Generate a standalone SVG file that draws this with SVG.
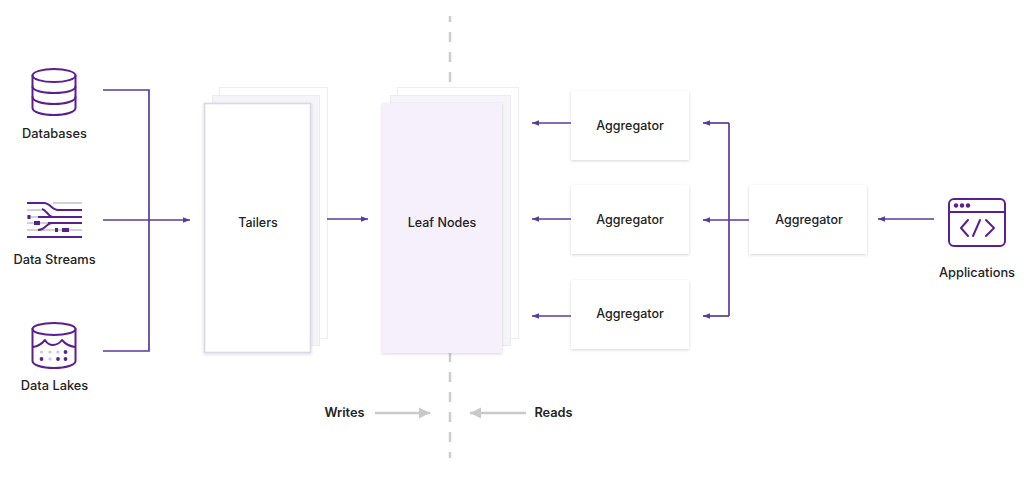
<svg xmlns="http://www.w3.org/2000/svg" width="1024" height="490" viewBox="0 0 1024 490">
<defs>
<filter id="sh" x="-10%" y="-10%" width="120%" height="120%"><feDropShadow dx="0" dy="1" stdDeviation="1.5" flood-color="#000" flood-opacity="0.16"/></filter>
<marker id="pa" markerUnits="userSpaceOnUse" markerWidth="8" markerHeight="7" refX="7" refY="3.500" orient="auto-start-reverse"><path d="M0 0.800L7 3.500L0 6.200z" fill="#5a3a9e"/></marker>
<marker id="ga" markerUnits="userSpaceOnUse" markerWidth="12" markerHeight="12" refX="11" refY="6" orient="auto"><path d="M0 0.500L11 6L0 11.500z" fill="#c9c9c9"/></marker>
</defs>
<style>
text{font-family:"Inter","Liberation Sans",sans-serif;font-size:12.5px;font-weight:500;fill:#232323;text-anchor:middle}
.lb{font-size:12.8px}
.c{fill:none;stroke:#5a3a9e;stroke-width:1.7}
.i{fill:none;stroke:#5c1f8f;stroke-width:2;stroke-linecap:round;stroke-linejoin:round}
.g{fill:none;stroke:#c4c4c8;stroke-width:1.4}
.k{fill:none;stroke:#5c1f8f;stroke-width:2.1}
.d{fill:#5c1f8f}
.box{fill:#fff;filter:url(#sh)}
.back{fill:#fff;stroke:#ececf2;stroke-width:1}
.mid{fill:#f5f5f9;stroke:#ebebf1;stroke-width:1}
</style>
<line x1="450" y1="16" x2="450" y2="458" stroke="#cdcdcd" stroke-width="2.500" stroke-dasharray="10 10" stroke-dashoffset="4"/>
<g id="tailers">
<rect class="back" x="219.500" y="87.500" width="108" height="251"/>
<rect class="mid" x="212.500" y="95.500" width="107" height="250"/>
<rect x="204.500" y="103.500" width="106" height="249" fill="#fff" stroke="#d9d8e8" stroke-width="1.600" filter="url(#sh)"/>
<text x="258" y="226.500">Tailers</text>
</g>
<g id="leaf-nodes">
<rect class="back" x="397.500" y="87.500" width="121" height="251"/>
<rect class="mid" x="390.500" y="95.500" width="120" height="250"/>
<rect x="382" y="103" width="120" height="250" fill="#f5f0fc" filter="url(#sh)"/>
<text x="442" y="226.500">Leaf Nodes</text>
</g>
<g id="aggregator-1"><rect class="box" x="571" y="91" width="118" height="69"/><text x="630" y="130">Aggregator</text></g>
<g id="aggregator-2"><rect class="box" x="571" y="185" width="118" height="69"/><text x="630" y="224">Aggregator</text></g>
<g id="aggregator-3"><rect class="box" x="571" y="280" width="118" height="69"/><text x="630" y="318">Aggregator</text></g>
<g id="aggregator-top"><rect class="box" x="749" y="185" width="118" height="69"/><text x="809" y="224">Aggregator</text></g>
<g id="connectors">
<path class="c" d="M103 90H149V351H103"/>
<path class="c" d="M103 220H190" marker-end="url(#pa)"/>
<path class="c" d="M327 219H368" marker-end="url(#pa)"/>
<path class="c" d="M571 123H532" marker-end="url(#pa)"/>
<path class="c" d="M571 219H532" marker-end="url(#pa)"/>
<path class="c" d="M571 316H532" marker-end="url(#pa)"/>
<path class="c" d="M729 123H703" marker-end="url(#pa)"/>
<path class="c" d="M749 220H703" marker-end="url(#pa)"/>
<path class="c" d="M729 316H703" marker-end="url(#pa)"/>
<path class="c" d="M729 123V316"/>
<path class="c" d="M934 219H878" marker-end="url(#pa)"/>
<path d="M375 413H430" fill="none" stroke="#c9c9c9" stroke-width="2.500" marker-end="url(#ga)"/>
<path d="M526 413H470" fill="none" stroke="#c9c9c9" stroke-width="2.500" marker-end="url(#ga)"/>
</g>
<g id="databases">
<ellipse class="i" cx="54" cy="75.500" rx="21.500" ry="6.500"/>
<path class="i" d="M32.500 75.500V108C32.500 112 42 115 54 115S75.500 112 75.500 108V75.500"/>
<path class="i" d="M32.500 86.500C32.500 90.500 42 93 54 93S75.500 90.500 75.500 86.500"/>
<path class="i" d="M32.500 97C32.500 101 42 104 54 104S75.500 101 75.500 97"/>
<text class="lb" x="54.500" y="137.500">Databases</text>
</g>
<g id="data-streams">
<path class="g" d="M53 203H82M27 210H42M27 217H38M27 223H50M27 230H82"/>
<path class="k" d="M27 203H44C50 203 52 210 58 210H82M38 217H82M42 209C47 210 48 217 53 217M48 223H82M38 230C46 230 46 223 52 223M27 237H82"/>
<rect class="d" x="27.500" y="215" width="3" height="4"/><rect class="d" x="34" y="221" width="6" height="4"/><rect class="d" x="55" y="228" width="3" height="4"/><rect class="d" x="62" y="228" width="7" height="4"/>
<text class="lb" x="54.500" y="263.500">Data Streams</text>
</g>
<g id="data-lakes">
<ellipse class="i" cx="54" cy="329" rx="21.500" ry="6"/>
<path class="i" d="M32.500 329V361C32.500 365 42 368 54 368S75.500 365 75.500 361V329"/>
<path class="i" d="M33 347Q40 346 45 340Q48 345 53 345Q58 345 62 340Q67 346 75 347"/>
<g class="d"><circle cx="65.500" cy="352" r="1.900"/><circle cx="41.500" cy="359" r="1.900"/><circle cx="58" cy="359" r="1.900"/><circle cx="65.500" cy="359" r="1.900"/></g>
<g fill="#cfc4de"><circle cx="41.500" cy="352" r="1.600"/><circle cx="50" cy="352" r="1.600"/><circle cx="58" cy="352" r="1.600"/><circle cx="50" cy="359" r="1.600"/></g>
<text class="lb" x="54.500" y="390">Data Lakes</text>
</g>
<g id="applications">
<rect class="i" x="949" y="199" width="56" height="47" rx="5"/>
<path class="i" d="M949 212H1005"/>
<g class="d"><circle cx="956" cy="205.500" r="2.200"/><circle cx="962" cy="205.500" r="2.200"/><circle cx="968" cy="205.500" r="2.200"/></g>
<path class="i" d="M968 220L961 228L968 236M980 220L973 236M986 220L994 228L986 236"/>
<text class="lb" x="977" y="277">Applications</text>
</g>
<g id="writes"><text x="344.500" y="417" style="font-weight:600;font-size:12.800px">Writes</text></g>
<g id="reads"><text x="553.500" y="417" style="font-weight:600;font-size:12.800px">Reads</text></g>
</svg>
